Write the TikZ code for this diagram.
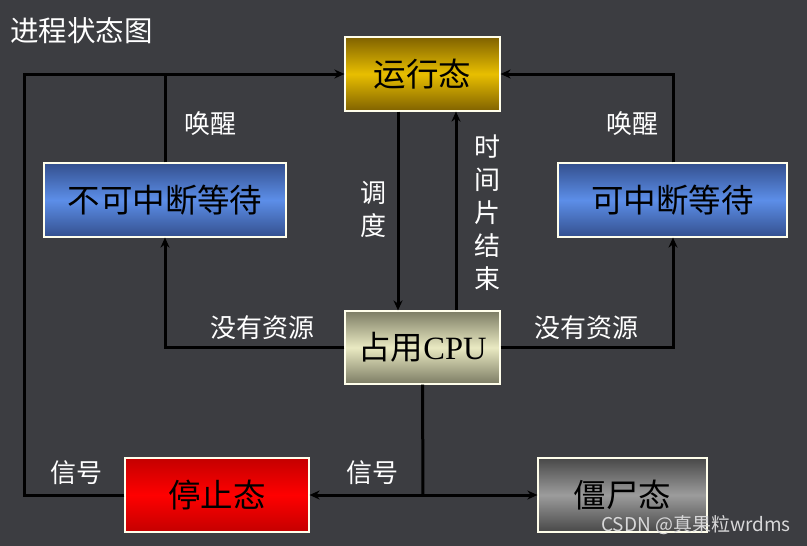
\documentclass[tikz,border=0pt]{standalone}
\usepackage{fontspec}
\setmainfont{Liberation Serif}
\newfontfamily\cjk{Noto Sans CJK SC}
\usetikzlibrary{arrows.meta,positioning}

\definecolor{bg}{RGB}{60,61,65}
\definecolor{goldmid}{RGB}{232,190,0}
\definecolor{goldedge}{RGB}{128,98,0}
\definecolor{bluemid}{RGB}{92,142,232}
\definecolor{blueedge}{RGB}{52,80,142}
\definecolor{cpumid}{RGB}{234,234,194}
\definecolor{cpuedge}{RGB}{124,124,100}
\definecolor{redmid}{RGB}{255,0,0}
\definecolor{rededge}{RGB}{196,0,0}
\definecolor{greymid}{RGB}{156,156,156}
\definecolor{greyedge}{RGB}{72,72,72}

\tikzset{
  state/.style={draw=white!92!yellow, line width=1.2pt, shading=axis,
    minimum height=74pt, inner sep=0pt, text=black,
    font=\cjk\fontsize{32.5}{32.5}\selectfont},
  wire/.style={line width=3pt, black},
  lbl/.style={text=white, inner sep=0pt, align=center,
    font=\cjk\fontsize{26}{33}\selectfont},
}

\begin{document}
\begin{tikzpicture}[x=1pt, y=-1pt, >={Stealth[length=10pt,width=9pt]}]
  \fill[bg] (0,0) rectangle (807,546);
  \useasboundingbox (0,0) rectangle (807,546);

  % title
  \node[text=white, anchor=west, inner sep=0pt, font=\cjk\fontsize{28.5}{28.5}\selectfont] (title) at (10,31) {进程状态图};

  % states
  \node[state, minimum width=155pt, top color=goldedge, bottom color=goldedge, middle color=goldmid] (run) at (422.5,74) {运行态};
  \node[state, minimum width=242pt, top color=blueedge, bottom color=blueedge, middle color=bluemid] (unint) at (165,200) {不可中断等待};
  \node[state, minimum width=229pt, top color=blueedge, bottom color=blueedge, middle color=bluemid] (inter) at (672.5,200) {可中断等待};
  \node[state, minimum width=155pt, minimum height=73pt, top color=cpuedge, bottom color=cpuedge, middle color=cpumid] (cpu) at (422.5,347.5) {占用\textrm{CPU}};
  \node[state, minimum width=184pt, top color=rededge, bottom color=rededge, middle color=redmid] (stop) at (217,495) {停止态};
  \node[state, minimum width=169pt, top color=greyedge, bottom color=greyedge, middle color=greymid] (zombie) at (622.5,495) {僵尸态};

  % corners
  \coordinate (topleft) at (24,74);
  \coordinate (botleft) at (24,495);
  \coordinate (midleft) at (165,347.5);
  \coordinate (midright) at (673,347.5);
  \coordinate (topright) at (673,74);
  \coordinate (split) at (423,495);

  % connectors
  \draw[wire,->] (stop.west) -- (botleft) -- (topleft) -- (run.west);
  \draw[wire] (unint.north) -- (unint.north |- topleft);
  \draw[wire,->] ([xshift=-24.5pt]run.south) -- ([xshift=-24.5pt]cpu.north);
  \draw[wire,->] ([xshift=33.5pt]cpu.north) -- ([xshift=33.5pt]run.south);
  \draw[wire,->] (cpu.west) -- (midleft) -- (unint.south);
  \draw[wire,->] (cpu.east) -- (midright) -- (midright |- inter.south);
  \draw[wire,->] (midright |- inter.north) -- (topright) -- (run.east);
  \draw[wire] (cpu.south) -- (split);
  \draw[wire,->] (split) -- (stop.east);
  \draw[wire,->] (split) -- (zombie.west);

  % labels
  \node[lbl] (wake1) at (210,124) {唤醒};
  \node[lbl] (wake2) at (632,124) {唤醒};
  \node[lbl] (sched) at (373,209) {调\\度};
  \node[lbl] (slice) at (487,213) {时\\间\\片\\结\\束};
  \node[lbl] (nores1) at (262,328) {没有资源};
  \node[lbl] (nores2) at (586,328) {没有资源};
  \node[lbl] (sig1) at (76,473) {信号};
  \node[lbl] (sig2) at (372,473) {信号};

  % watermark
  \node[text=white!80!bg, anchor=east, inner sep=0pt, font=\cjk\fontsize{19}{19}\selectfont] (mark) at (791,525) {CSDN @真果粒wrdms};
\end{tikzpicture}
\end{document}
